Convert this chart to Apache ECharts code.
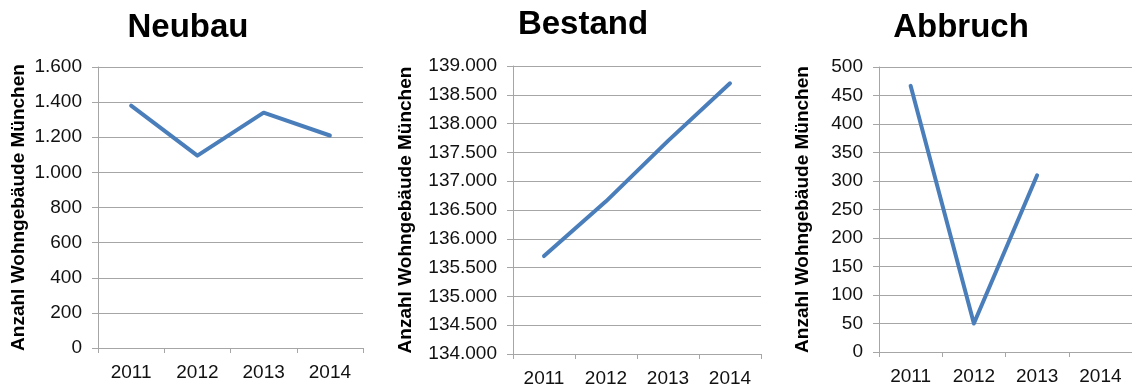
<!DOCTYPE html>
<html>
<head>
<meta charset="utf-8">
<script src="https://cdn.jsdelivr.net/npm/echarts@6/dist/echarts.min.js"></script>
<style>
  html, body { margin: 0; padding: 0; background: #fff; }
  #chart { width: 1132px; height: 390px; }
</style>
</head>
<body>
<div id="chart"></div>
<script>
// Residential buildings in Munich, 2011–2014
const years = ['2011', '2012', '2013', '2014'];
const neubau = [1380, 1095, 1340, 1210];          // new construction
const bestand = [135700, 136650, 137700, 138700]; // total stock
const abbruch = [467, 50, 310, null];             // demolitions (no 2014 value)

const panelTitles = ['Neubau', 'Bestand', 'Abbruch'];
const yAxisTitle = 'Anzahl Wohngebäude München';
// value axis ranges: [min, max, step]
const neubauRange = [0, 1600, 200];
const bestandRange = [134000, 139000, 500];
const abbruchRange = [0, 500, 50];

const FONT = '"Liberation Sans", Arial, Helvetica, sans-serif';
const GRID_COLOR = '#a6a6a6';
const LINE_COLOR = '#4a7ebb';

function deNumber(v) {
  return String(v).replace(/\B(?=(\d{3})+(?!\d))/g, '.');
}

const grids = [
  { left: 98, top: 67, width: 265, height: 281 },
  { left: 513, top: 66, width: 248, height: 288 },
  { left: 879, top: 67, width: 260, height: 285 }
];
const titlePos = [
  { x: 188, top: 11 },
  { x: 583, top: 8 },
  { x: 961, top: 11 }
];
const nameGaps = [70, 98, 67];
const ranges = [neubauRange, bestandRange, abbruchRange];
const seriesData = [neubau, bestand, abbruch];

const option = {
  animation: false,
  title: panelTitles.map((t, i) => ({
    text: t,
    left: titlePos[i].x,
    top: titlePos[i].top,
    textAlign: 'center',
    padding: 0,
    textStyle: { fontFamily: FONT, fontWeight: 'bold', fontSize: 33, color: '#000' }
  })),
  grid: grids,
  xAxis: grids.map((g, i) => ({
    type: 'category',
    gridIndex: i,
    data: years,
    boundaryGap: true,
    axisLine: { show: true, lineStyle: { color: GRID_COLOR, width: 1 } },
    axisTick: { show: true, length: 5, interval: 0, lineStyle: { color: GRID_COLOR } },
    axisLabel: { margin: 15, fontFamily: FONT, fontSize: 19, color: '#111' },
    splitLine: { show: false }
  })),
  yAxis: grids.map((g, i) => ({
    type: 'value',
    gridIndex: i,
    min: ranges[i][0],
    max: ranges[i][1],
    interval: ranges[i][2],
    name: yAxisTitle,
    nameLocation: 'middle',
    nameRotate: 90,
    nameGap: nameGaps[i],
    nameTextStyle: { fontFamily: FONT, fontWeight: 'bold', fontSize: 19, color: '#000' },
    axisLine: { show: true, lineStyle: { color: GRID_COLOR, width: 1 } },
    axisTick: { show: true, length: 6, lineStyle: { color: GRID_COLOR } },
    axisLabel: {
      margin: 16,
      fontFamily: FONT,
      fontSize: 19,
      color: '#111',
      formatter: deNumber
    },
    splitLine: { show: true, lineStyle: { color: GRID_COLOR, width: 1 } }
  })),
  series: seriesData.map((d, i) => ({
    type: 'line',
    xAxisIndex: i,
    yAxisIndex: i,
    data: d,
    symbol: 'none',
    connectNulls: false,
    lineStyle: { color: LINE_COLOR, width: 4, cap: 'round', join: 'round' }
  }))
};

const chart = echarts.init(document.getElementById('chart'), null, { renderer: 'canvas' });
chart.setOption(option);
</script>
</body>
</html>
